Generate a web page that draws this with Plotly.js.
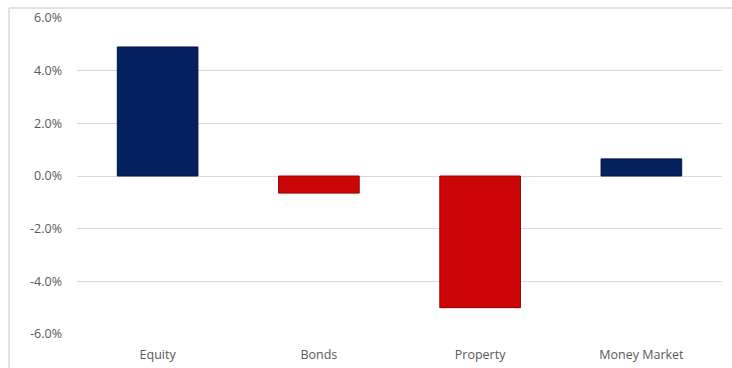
<!DOCTYPE html>
<html>
<head>
<meta charset="utf-8">
<script src="https://cdn.plot.ly/plotly-3.0.1.min.js"></script>
<style>html,body{margin:0;padding:0;background:#fff;}#chart{width:732px;height:368px;}</style>
</head>
<body>
<div id="chart"></div>
<script>
const categories = ["Equity", "Bonds", "Property", "Money Market"];
const values = [4.9, -0.65, -5.0, 0.65];
const tickVals = [-6, -4, -2, 0, 2, 4, 6];
const tickText = ["-6.0%", "-4.0%", "-2.0%", "0.0%", "2.0%", "4.0%", "6.0%"];

const posColor = "#04215f", negColor = "#cc0606";
const posLine = "#021444", negLine = "#8f0303";

const trace = {
  type: "bar",
  x: categories,
  y: values,
  marker: {
    color: values.map(v => v >= 0 ? posColor : negColor),
    line: {color: values.map(v => v >= 0 ? posLine : negLine), width: 1}
  },
  hoverinfo: "skip"
};

const layout = {
  width: 732, height: 368,
  margin: {l: 77, r: 10, t: 18, b: 34},
  paper_bgcolor: "#fff", plot_bgcolor: "#fff",
  bargap: 0.5,
  showlegend: false,
  font: {family: "'Open Sans', Lato, sans-serif", size: 12.5, color: "#595959"},
  xaxis: {
    showgrid: false, zeroline: false, showline: false,
    ticks: "", tickfont: {size: 12.5, color: "#595959"},
    ticklabelstandoff: 11
  },
  yaxis: {
    range: [-6, 6], tickvals: tickVals, ticktext: tickText,
    showgrid: true, gridcolor: "#d9d9d9", gridwidth: 1,
    zeroline: true, zerolinecolor: "#d9d9d9", zerolinewidth: 1,
    showline: false, ticks: "", ticklabelstandoff: 14,
    tickfont: {size: 12.5, color: "#595959"}
  },
  shapes: [
    {type: "line", xref: "paper", yref: "paper", x0: -0.1054, x1: -0.1054, y0: 1.0316, y1: -0.2,
     line: {color: "#d9d9d9", width: 1.5}},
    {type: "line", xref: "paper", yref: "paper", x0: -0.1054, x1: 1.1, y0: 1.0316, y1: 1.0316,
     line: {color: "#d9d9d9", width: 1.5}}
  ]
};

Plotly.newPlot("chart", [trace], layout, {displayModeBar: false, staticPlot: true});
</script>
</body>
</html>
